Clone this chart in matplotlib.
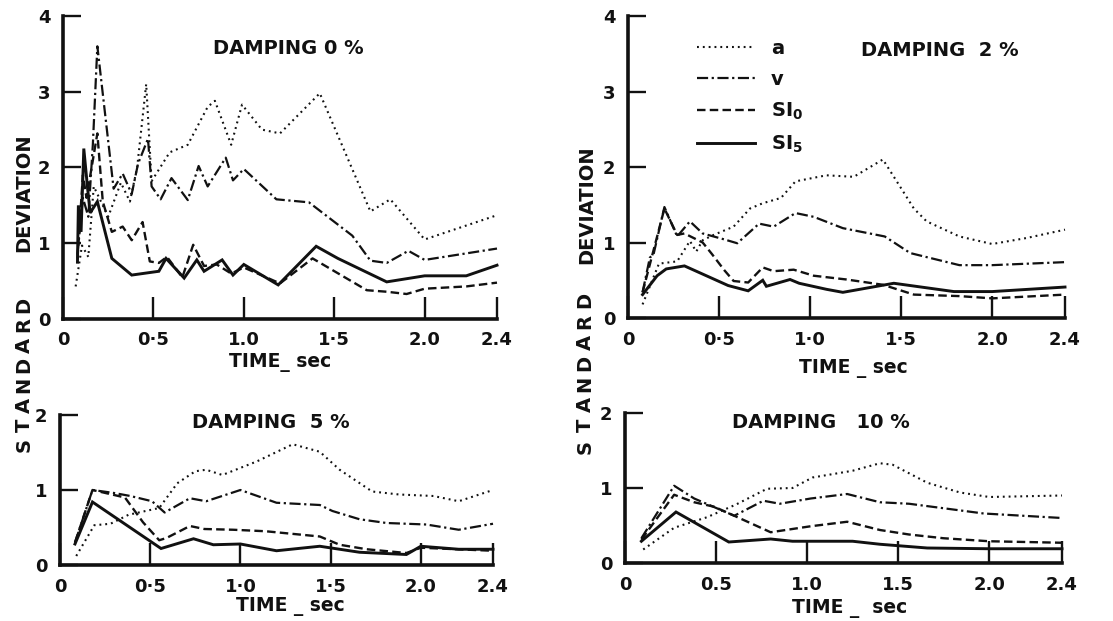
import matplotlib
matplotlib.use("Agg")
import matplotlib.pyplot as plt

# ---------------------------------------------------------------- data
# Standard deviation against period (sec) for four damping ratios.
# Series: a (acceleration), v (velocity), SI0 and SI5 (spectrum intensity)

# Damping 0 %
T_D0_A = [0.07, 0.105, 0.14, 0.17, 0.21, 0.25, 0.32, 0.37, 0.41, 0.46, 0.49, 0.59,
          0.69, 0.80, 0.84, 0.93, 0.99, 1.10, 1.20, 1.42, 1.70, 1.81, 2.00, 2.40]
SD_D0_A = [0.43, 0.97, 0.82, 1.75, 1.55, 1.35, 1.80, 1.55, 2.00, 3.10, 1.82, 2.20,
           2.30, 2.80, 2.88, 2.30, 2.83, 2.50, 2.45, 2.98, 1.42, 1.58, 1.05, 1.37]
T_D0_V = [0.08, 0.11, 0.14, 0.165, 0.19, 0.28, 0.33, 0.38, 0.415, 0.47, 0.49, 0.54,
          0.60, 0.69, 0.75, 0.80, 0.90, 0.94, 1.00, 1.18, 1.36, 1.60, 1.70, 1.79,
          1.91, 2.00, 2.40]
SD_D0_V = [0.85, 1.60, 1.35, 2.30, 3.60, 1.72, 1.92, 1.65, 2.05, 2.38, 1.75, 1.58,
           1.86, 1.57, 2.02, 1.75, 2.13, 1.83, 1.98, 1.58, 1.54, 1.10, 0.77, 0.74,
           0.90, 0.78, 0.93]
T_D0_SI0 = [0.08, 0.11, 0.13, 0.19, 0.22, 0.27, 0.33, 0.38, 0.44, 0.48, 0.53, 0.575,
            0.66, 0.72, 0.78, 0.85, 0.93, 1.00, 1.20, 1.38, 1.68, 1.79, 1.90, 2.00,
            2.23, 2.40]
SD_D0_SI0 = [0.80, 1.90, 1.60, 2.45, 1.55, 1.15, 1.22, 1.04, 1.28, 0.76, 0.74, 0.82,
             0.55, 0.98, 0.70, 0.72, 0.60, 0.68, 0.47, 0.80, 0.38, 0.36, 0.33, 0.40,
             0.43, 0.48]
T_D0_SI5 = [0.08, 0.085, 0.10, 0.115, 0.135, 0.15, 0.19, 0.27, 0.38, 0.53, 0.57, 0.67,
            0.74, 0.78, 0.88, 0.94, 1.00, 1.19, 1.40, 1.52, 1.79, 2.00, 2.23, 2.40]
SD_D0_SI5 = [0.75, 1.50, 1.15, 2.25, 1.75, 1.40, 1.55, 0.80, 0.58, 0.63, 0.80, 0.54,
             0.78, 0.63, 0.78, 0.58, 0.72, 0.45, 0.96, 0.80, 0.49, 0.57, 0.57, 0.71]

# Damping 2 %
T_D2_A = [0.08, 0.17, 0.27, 0.34, 0.375, 0.41, 0.47, 0.58, 0.67, 0.74, 0.84, 0.92,
          1.09, 1.24, 1.40, 1.57, 1.64, 1.82, 2.00, 2.19, 2.40]
SD_D2_A = [0.18, 0.72, 0.75, 1.02, 0.88, 1.03, 1.10, 1.21, 1.45, 1.52, 1.59, 1.81,
           1.89, 1.87, 2.10, 1.45, 1.28, 1.08, 0.98, 1.06, 1.17]
T_D2_V = [0.08, 0.12, 0.14, 0.20, 0.27, 0.34, 0.41, 0.53, 0.60, 0.72, 0.80, 0.92,
          1.02, 1.18, 1.41, 1.55, 1.82, 2.00, 2.40]
SD_D2_V = [0.34, 0.80, 0.84, 1.47, 1.08, 1.28, 1.12, 1.04, 0.99, 1.25, 1.21, 1.39,
           1.34, 1.19, 1.08, 0.86, 0.70, 0.70, 0.74]
T_D2_SI0 = [0.08, 0.20, 0.27, 0.31, 0.41, 0.46, 0.53, 0.58, 0.66, 0.74, 0.80, 0.91,
            1.02, 1.20, 1.40, 1.57, 1.82, 2.00, 2.40]
SD_D2_SI0 = [0.34, 1.45, 1.10, 1.12, 1.00, 0.85, 0.63, 0.49, 0.47, 0.67, 0.62, 0.64,
             0.56, 0.51, 0.44, 0.31, 0.29, 0.26, 0.31]
T_D2_SI5 = [0.08, 0.16, 0.21, 0.31, 0.43, 0.55, 0.66, 0.74, 0.76, 0.89, 0.94, 1.09,
            1.18, 1.46, 1.64, 1.79, 2.00, 2.40]
SD_D2_SI5 = [0.31, 0.56, 0.65, 0.69, 0.56, 0.43, 0.36, 0.50, 0.42, 0.51, 0.46, 0.38,
             0.34, 0.46, 0.40, 0.35, 0.35, 0.41]

# Damping 5 %
T_D5_A = [0.09, 0.19, 0.28, 0.38, 0.55, 0.65, 0.75, 0.81, 0.90, 1.09, 1.29, 1.44,
          1.55, 1.73, 1.88, 2.07, 2.21, 2.40]
SD_D5_A = [0.12, 0.53, 0.55, 0.67, 0.76, 1.09, 1.25, 1.27, 1.20, 1.38, 1.61, 1.51,
           1.27, 0.98, 0.94, 0.92, 0.85, 1.00]
T_D5_V = [0.083, 0.18, 0.30, 0.39, 0.51, 0.58, 0.72, 0.81, 1.00, 1.20, 1.44, 1.51,
          1.66, 1.81, 2.03, 2.21, 2.40]
SD_D5_V = [0.30, 1.00, 0.96, 0.92, 0.85, 0.70, 0.89, 0.85, 1.00, 0.83, 0.80, 0.72,
           0.61, 0.56, 0.54, 0.47, 0.55]
T_D5_SI0 = [0.083, 0.18, 0.36, 0.46, 0.55, 0.59, 0.72, 0.80, 0.96, 1.14, 1.44, 1.55,
            1.70, 1.92, 2.00, 2.40]
SD_D5_SI0 = [0.30, 1.00, 0.90, 0.57, 0.33, 0.36, 0.52, 0.48, 0.47, 0.45, 0.38, 0.27,
             0.21, 0.16, 0.23, 0.19]
T_D5_SI5 = [0.083, 0.18, 0.56, 0.74, 0.85, 1.00, 1.20, 1.44, 1.66, 1.92, 2.00, 2.21, 2.40]
SD_D5_SI5 = [0.28, 0.84, 0.22, 0.35, 0.27, 0.28, 0.19, 0.25, 0.17, 0.14, 0.25, 0.21, 0.21]

# Damping 10 %
T_D10_A = [0.10, 0.27, 0.45, 0.61, 0.78, 0.92, 1.03, 1.25, 1.40, 1.47, 1.66, 1.84,
           2.00, 2.40]
SD_D10_A = [0.18, 0.47, 0.61, 0.78, 0.99, 1.00, 1.14, 1.23, 1.33, 1.31, 1.07, 0.94,
            0.88, 0.90]
T_D10_V = [0.09, 0.27, 0.38, 0.60, 0.76, 0.85, 1.02, 1.22, 1.40, 1.56, 1.75, 1.97, 2.40]
SD_D10_V = [0.33, 1.03, 0.86, 0.63, 0.83, 0.79, 0.86, 0.92, 0.81, 0.79, 0.73, 0.66, 0.60]
T_D10_SI0 = [0.09, 0.27, 0.38, 0.49, 0.60, 0.80, 1.02, 1.22, 1.40, 1.56, 1.75, 2.00, 2.40]
SD_D10_SI0 = [0.31, 0.91, 0.81, 0.75, 0.63, 0.41, 0.49, 0.55, 0.44, 0.38, 0.33, 0.29, 0.27]
T_D10_SI5 = [0.09, 0.28, 0.57, 0.80, 0.92, 1.25, 1.40, 1.66, 2.00, 2.40]
SD_D10_SI5 = [0.29, 0.68, 0.28, 0.32, 0.29, 0.29, 0.25, 0.20, 0.19, 0.19]

SERIES_LABELS = ["a", "v", "SI$_\\mathbf{0}$", "SI$_\\mathbf{5}$"]
X_TICKS = [0, 0.5, 1.0, 1.5, 2.0, 2.4]

# ---------------------------------------------------------------- style
W, H = 1113, 621
FONT = "DejaVu Sans"
INK = "#111111"
STYLES = [
    dict(linestyle=(0, (0.9, 1.9)), lw=1.5),            # a
    dict(linestyle=(0, (5.0, 1.6, 1.0, 1.6)), lw=1.6),  # v
    dict(linestyle=(0, (3.6, 1.8)), lw=1.7),            # SI0
    dict(linestyle="-", lw=2.1),                        # SI5
]

fig = plt.figure(figsize=(W / 100, H / 100), dpi=100)
fig.patch.set_facecolor("white")


def frac(x, y):
    return x / W, 1 - y / H


def make_axes(x0, x_end, y0, y_top, ymax):
    ax = fig.add_axes([x0 / W, 1 - y0 / H, (x_end - x0) / W, (y0 - y_top) / H])
    ax.set_xlim(0, 2.4)
    ax.set_ylim(0, ymax)
    for side in ("top", "right"):
        ax.spines[side].set_visible(False)
    for side in ("left", "bottom"):
        ax.spines[side].set_linewidth(2.6)
        ax.spines[side].set_color(INK)
        ax.spines[side].set_capstyle("projecting")
    ax.set_yticks(range(ymax + 1))
    ax.set_yticklabels([str(v) for v in range(ymax + 1)])
    ax.tick_params(axis="x", direction="in", length=16, width=1.7, pad=9, color=INK)
    ax.tick_params(axis="y", direction="in", length=13, width=1.7, pad=9, color=INK)
    for lab in ax.get_xticklabels() + ax.get_yticklabels():
        lab.set_fontfamily(FONT)
        lab.set_fontweight("bold")
        lab.set_fontsize(13)
        lab.set_color(INK)
    ax.patch.set_alpha(0)
    return ax


def draw_series(ax, pairs):
    handles = []
    for (t, sd), st in zip(pairs, STYLES):
        h, = ax.plot(t, sd, color=INK, clip_on=False, solid_joinstyle="miter",
                     dash_capstyle="butt", **st)
        handles.append(h)
    return handles


def set_xlabels(ax, labels):
    ax.set_xticks(X_TICKS)
    ax.set_xticklabels(labels, fontfamily=FONT, fontweight="bold", fontsize=13, color=INK)


def put_text(x, y, s, size=13.5, **kw):
    fx, fy = frac(x, y)
    fig.text(fx, fy, s, fontfamily=FONT, fontweight="bold", fontsize=size,
             color=INK, ha="center", va="center", **kw)


def spaced_vertical(x, y_bottom, y_top, word, size=14):
    """Write a word bottom-to-top with its letters spread evenly."""
    n = len(word)
    for i, ch in enumerate(word):
        y = y_bottom + (y_top - y_bottom) * (i + 0.5) / n
        put_text(x, y, ch, size=size, rotation=90)


# ---------------------------------------------------------------- panels
ax0 = make_axes(63, 497, 319, 16, 4)
draw_series(ax0, [(T_D0_A, SD_D0_A), (T_D0_V, SD_D0_V),
                  (T_D0_SI0, SD_D0_SI0), (T_D0_SI5, SD_D0_SI5)])
set_xlabels(ax0, ["0", "0·5", "1.0", "1·5", "2.0", "2.4"])
put_text(288, 48, "DAMPING 0 %", size=14)
put_text(280, 363, "TIME_ sec", size=13.5)

ax2 = make_axes(628, 1065, 318, 16, 4)
handles = draw_series(ax2, [(T_D2_A, SD_D2_A), (T_D2_V, SD_D2_V),
                            (T_D2_SI0, SD_D2_SI0), (T_D2_SI5, SD_D2_SI5)])
set_xlabels(ax2, ["0", "0·5", "1·0", "1·5", "2.0", "2.4"])
put_text(940, 50, "DAMPING  2 %", size=14)
put_text(853, 368, "TIME _ sec", size=13.5)

leg = ax2.legend(handles, SERIES_LABELS, loc="upper left",
                 bbox_to_anchor=(0.158, 0.925), frameon=False, borderpad=0,
                 borderaxespad=0, handlelength=3.0, handletextpad=0.8,
                 labelspacing=0.62,
                 prop=dict(family=FONT, weight="bold", size=14))
for txt in leg.get_texts():
    txt.set_color(INK)

ax5 = make_axes(60, 493, 565, 415, 2)
draw_series(ax5, [(T_D5_A, SD_D5_A), (T_D5_V, SD_D5_V),
                  (T_D5_SI0, SD_D5_SI0), (T_D5_SI5, SD_D5_SI5)])
set_xlabels(ax5, ["0", "0·5", "1·0", "1·5", "2.0", "2.4"])
put_text(271, 423, "DAMPING  5 %", size=14)
put_text(290, 606, "TIME _ sec", size=13.5)

ax10 = make_axes(625, 1062, 563, 413, 2)
draw_series(ax10, [(T_D10_A, SD_D10_A), (T_D10_V, SD_D10_V),
                   (T_D10_SI0, SD_D10_SI0), (T_D10_SI5, SD_D10_SI5)])
set_xlabels(ax10, ["0", "0.5", "1.0", "1.5", "2.0", "2.4"])
put_text(821, 423, "DAMPING   10 %", size=14)
put_text(850, 609, "TIME _  sec", size=13.5)

# shared vertical axis titles, one per column
spaced_vertical(24, 455, 295, "STANDARD")
put_text(24, 193, "DEVIATION", size=14, rotation=90)
spaced_vertical(585, 457, 290, "STANDARD")
put_text(587, 205, "DEVIATION", size=14, rotation=90)

fig.savefig("out.png", dpi=100, facecolor="white")
